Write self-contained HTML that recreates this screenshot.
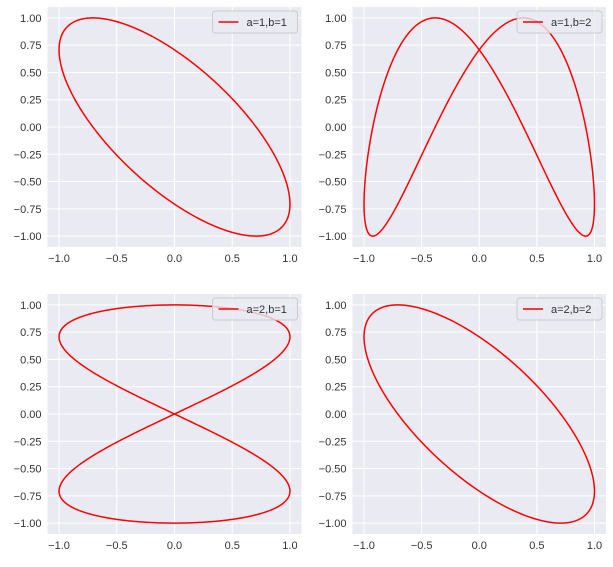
<!DOCTYPE html>
<html><head><meta charset="utf-8"><style>
body{margin:0;background:#fff;}
svg text{font-family:"Liberation Sans",sans-serif;font-size:11px;fill:#333;}
</style></head><body>
<svg id="c" width="613" height="562"></svg>
<script>
const panelA=[1,1,2,2];
const panelB=[1,2,1,2];
const panelPhase=[0.75*Math.PI,0.75*Math.PI,0.5*Math.PI,0.75*Math.PI];
const xTicks=[-1.0,-0.5,0.0,0.5,1.0];
const xTickLabels=["−1.0","−0.5","0.0","0.5","1.0"];
const yTicks=[1,0.75,0.5,0.25,0,-0.25,-0.5,-0.75,-1];
const yTickLabels=["1.00","0.75","0.50","0.25","0.00","−0.25","−0.50","−0.75","−1.00"];
const boxes=[[47.5,7,301.5,247],[352.5,7,606,247],[47.5,294,301.5,534],[352.5,294,606,534]];
const svg=document.getElementById('c');
const NS='http://www.w3.org/2000/svg';
function mk(t,at){const e=document.createElementNS(NS,t);for(const k in at)e.setAttribute(k,at[k]);return e;}
boxes.forEach((bx,i)=>{
  const [x0,y0,x1,y1]=bx;
  const g=mk('g',{});
  
  
  svg.appendChild(g);
  const sx=v=>x0+(v+1.1)/2.2*(x1-x0);
  const sy=v=>y1-(v+1.1)/2.2*(y1-y0);
  const bg=mk('rect',{x:x0,y:y0,width:x1-x0,height:y1-y0,fill:'#eaeaf2'});
  
  
  g.appendChild(bg);
  xTicks.forEach((v,j)=>{
    g.appendChild(mk('line',{x1:sx(v),x2:sx(v),y1:y0,y2:y1,stroke:'#fff','stroke-width':1}));
    const t=mk('text',{x:sx(v),y:y1+15,'text-anchor':'middle'});t.textContent=xTickLabels[j];
    
    
    g.appendChild(t);
  });
  yTicks.forEach((v,j)=>{
    g.appendChild(mk('line',{x1:x0,x2:x1,y1:sy(v),y2:sy(v),stroke:'#fff','stroke-width':1}));
    const t=mk('text',{x:x0-6,y:sy(v)+4,'text-anchor':'end'});t.textContent=yTickLabels[j];
    
    
    g.appendChild(t);
  });
  let d='';const N=800;
  for(let k=0;k<=N;k++){const t=k/N*2*Math.PI;
    const x=Math.sin(panelA[i]*t), y=Math.sin(panelB[i]*t+panelPhase[i]);
    d+=(k?'L':'M')+sx(x).toFixed(2)+','+sy(y).toFixed(2);}
  const p=mk('path',{d:d,fill:'none',stroke:'#ff0000','stroke-width':1.5});
  
  
  g.appendChild(p);
  const lg=mk('g',{});
  
  
  g.appendChild(lg);
  lg.appendChild(mk('rect',{x:x1-89,y:y0+4,width:85,height:22,rx:3,fill:'#eaeaf2',stroke:'#ccc','fill-opacity':0.8}));
  lg.appendChild(mk('line',{x1:x1-83,x2:x1-63,y1:y0+15,y2:y0+15,stroke:'#ff0000','stroke-width':1.5}));
  const lt=mk('text',{x:x1-55,y:y0+19});lt.textContent='a='+panelA[i]+',b='+panelB[i];
  lg.appendChild(lt);
});
</script>
</body></html>
